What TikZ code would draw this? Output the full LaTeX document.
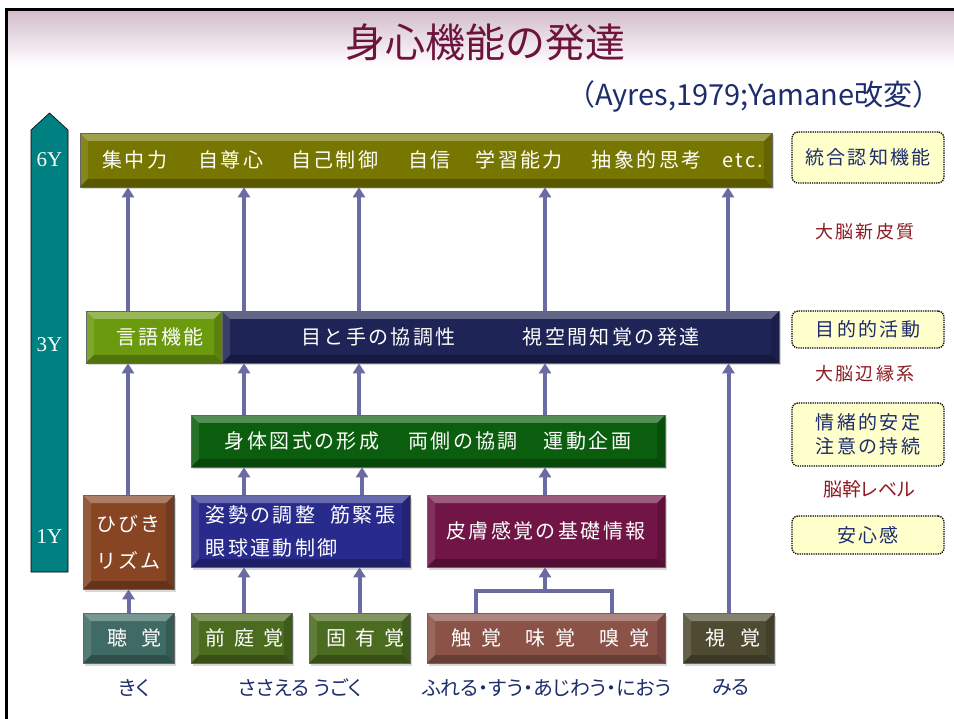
\documentclass[tikz,border=0pt]{standalone}
\usepackage{fontspec}
\setmainfont{Liberation Serif}
\newfontfamily\jp[LetterSpace=12]{Noto Sans CJK JP}
\newfontfamily\jpn{Noto Sans CJK JP}
\newfontfamily\jpp[RawFeature=+palt]{Noto Sans CJK JP}
\usetikzlibrary{arrows.meta,shadows}
\definecolor{bandtop}{RGB}{211,189,205}
\definecolor{titlec}{RGB}{110,20,60}
\definecolor{navytext}{RGB}{28,44,108}
\definecolor{tealbar}{RGB}{0,128,128}
\definecolor{olivebar}{RGB}{118,118,0}
\definecolor{speechc}{RGB}{107,154,15}
\definecolor{navybar}{RGB}{31,36,86}
\definecolor{bodyc}{RGB}{11,94,14}
\definecolor{rhythmc}{RGB}{135,69,36}
\definecolor{posturec}{RGB}{40,42,140}
\definecolor{skinc}{RGB}{112,21,69}
\definecolor{hearc}{RGB}{63,107,100}
\definecolor{vestc}{RGB}{75,107,30}
\definecolor{touchc}{RGB}{139,82,72}
\definecolor{visionc}{RGB}{79,75,50}
\definecolor{flowc}{RGB}{107,107,163}
\definecolor{notec}{RGB}{255,255,204}
\definecolor{brainc}{RGB}{139,28,36}
\begin{document}
\begin{tikzpicture}[x=1pt,y=-1pt,
  bevel/.style={path picture={
    \coordinate (bv1) at (path picture bounding box.north west);
    \coordinate (bv2) at (path picture bounding box.north east);
    \coordinate (bv3) at (path picture bounding box.south east);
    \coordinate (bv4) at (path picture bounding box.south west);
    \fill[white,opacity=.3] (bv1) -- (bv2) -- ([xshift=-8pt,yshift=-8pt]bv2) -- ([xshift=8pt,yshift=-8pt]bv1) -- cycle;
    \fill[white,opacity=.12] (bv1) -- ([xshift=8pt,yshift=-8pt]bv1) -- ([xshift=8pt,yshift=8pt]bv4) -- (bv4) -- cycle;
    \fill[black,opacity=.15] (bv2) -- ([xshift=-8pt,yshift=-8pt]bv2) -- ([xshift=-8pt,yshift=8pt]bv3) -- (bv3) -- cycle;
    \fill[black,opacity=.25] (bv4) -- ([xshift=8pt,yshift=8pt]bv4) -- ([xshift=-8pt,yshift=8pt]bv3) -- (bv3) -- cycle;
  }},
  stage/.style={draw=black!60, line width=.7pt, inner sep=0pt, text=white,
    font=\jp\fontsize{20}{33}\selectfont,
    drop shadow={shadow xshift=1.5pt,shadow yshift=-2.5pt,opacity=.3}, bevel},
  flow/.style={draw=flowc, line width=4pt, -{Triangle[width=12pt,length=10pt]}},
  flowline/.style={draw=flowc, line width=4pt},
  note/.style={draw, densely dotted, line width=1.3pt, rounded corners=6pt, fill=notec,
    text=navytext, font=\jp\fontsize{19}{24}\selectfont, inner sep=0pt, minimum width=152pt},
  brain/.style={text=brainc, font=\jp\fontsize{18}{22}\selectfont},
  sense/.style={text=navytext, font=\jpp\fontsize{20}{24}\selectfont},
  age/.style={text=white, font=\fontsize{21}{24}\selectfont}
]
\useasboundingbox (0,0) rectangle (954,719);
\fill[white] (0,0) rectangle (954,719);
\fill[top color=bandtop, bottom color=white] (7,11) rectangle (954,66);
\fill (5,8) rectangle (954,11);
\fill (5,8) rectangle (7.5,719);

\node[font=\jpn\fontsize{40}{44}\selectfont, text=titlec] (title) at (485,42) {身心機能の発達};
\node[font=\jpn\fontsize{29}{32}\selectfont, text=navytext] (source) at (754,96) {（Ayres,1979;Yamane改変）};

\filldraw[fill=tealbar, draw=black, line width=.6pt] (31,572) -- (31,130) -- (49.5,113) -- (68,130) -- (68,572) -- cycle;
\node[age] (y6) at (49.5,160) {6Y};
\node[age] (y3) at (49.5,345) {3Y};
\node[age] (y1) at (49.5,537) {1Y};

% stages
\node[stage, fill=olivebar, minimum width=692pt, minimum height=54pt] (top6) at (426,160)
  {\hspace{14pt}集中力\hspace{31pt}自尊心\hspace{28pt}自己制御\hspace{30pt}自信\hspace{25pt}学習能力\hspace{29pt}抽象的思考\hspace{21pt}etc.};
\node[stage, fill=speechc, minimum width=136pt, minimum height=52pt] (gengo) at (154,337) {\hspace{12pt}言語機能};
\node[stage, fill=navybar, minimum width=557pt, minimum height=52pt] (navy3) at (500.5,337)
  {目と手の協調性\hspace{67pt}視空間知覚の発達\hspace{32pt}};
\node[stage, fill=bodyc, minimum width=474pt, minimum height=52pt] (shintai) at (428,441)
  {身体図式の形成\hspace{29pt}両側の協調\hspace{26pt}運動企画};
\node[stage, fill=rhythmc, minimum width=91pt, minimum height=94pt, align=left,
  font=\jp\fontsize{20}{37}\selectfont] (hibiki) at (128.5,542) {ひびき\\リズム};
\node[stage, fill=posturec, minimum width=219pt, minimum height=72pt, align=left] (shisei) at (300.5,531)
  {姿勢の調整\hspace{15pt}筋緊張\\眼球運動制御};
\node[stage, fill=skinc, minimum width=238pt, minimum height=72pt] (hifu) at (546,531) {皮膚感覚の基礎情報};

% senses
\node[stage, fill=hearc, minimum width=91pt, minimum height=50pt] (choukaku) at (128.5,638) {\hspace{12pt}聴\hspace{14pt}覚};
\node[stage, fill=vestc, minimum width=101pt, minimum height=50pt] (zentei) at (241.5,638) {\hspace{6pt}前\hspace{9pt}庭\hspace{9pt}覚};
\node[stage, fill=vestc, minimum width=101pt, minimum height=50pt] (koyuu) at (359.5,638) {\hspace{12pt}固\hspace{9pt}有\hspace{9pt}覚};
\node[stage, fill=touchc, minimum width=238pt, minimum height=50pt] (shokkaku) at (546,638)
  {\hspace{8pt}触\hspace{10pt}覚\hspace{24pt}味\hspace{10pt}覚\hspace{24pt}嗅\hspace{10pt}覚};
\node[stage, fill=visionc, minimum width=91pt, minimum height=50pt] (shikaku) at (728.5,638) {\hspace{8pt}視\hspace{15pt}覚};

\node[sense] (kiku) at (134,688) {きく};
\node[sense] (sasaeru) at (274,688) {ささえる};
\node[sense] (ugoku) at (338,688) {うごく};
\node[sense] (fureru) at (547,688) {ふれる・すう・あじわう・におう};
\node[sense] (miru) at (731,688) {みる};

% right column
\node[note, minimum height=51pt] (integ) at (868,157.5) {統合認知機能};
\node[note, minimum height=37pt] (purpose) at (868,329.5) {目的的活動};
\node[note, minimum height=63pt, align=center] (emotion) at (868,434.5) {情緒的安定\\注意の持続};
\node[note, minimum height=38pt] (relief) at (868,535) {安心感};
\node[brain] (neo) at (865,232) {大脳新皮質};
\node[brain] (limbic) at (865,374) {大脳辺縁系};
\node[brain, font=\jpp\fontsize{19}{22}\selectfont] (stem) at (869,489) {脳幹レベル};

% arrows
\draw[flow] (choukaku.north) -- (hibiki.south);
\draw[flow] (244,0 |- zentei.north) -- (244,0 |- shisei.south);
\draw[flow] (koyuu.north) -- (koyuu.north |- shisei.south);
\coordinate (merge) at (545,591);
\draw[flowline] (476,0 |- shokkaku.north) |- (merge) -| (612,0 |- shokkaku.north);
\draw[flow] (merge) -- (merge |- hifu.south);
\foreach \x in {244,362} \draw[flow] (\x,0 |- shisei.north) -- (\x,0 |- shintai.south);
\draw[flow] (545,0 |- hifu.north) -- (545,0 |- shintai.south);
\draw[flow] (128,0 |- hibiki.north) -- (128,0 |- gengo.south);
\foreach \x in {244,359,545} \draw[flow] (\x,0 |- shintai.north) -- (\x,0 |- navy3.south);
\draw[flow] (shikaku.north) -- (shikaku.north |- navy3.south);
\draw[flow] (128,0 |- gengo.north) -- (128,0 |- top6.south);
\foreach \x in {244,359,545,728} \draw[flow] (\x,0 |- navy3.north) -- (\x,0 |- top6.south);
\end{tikzpicture}
\end{document}
